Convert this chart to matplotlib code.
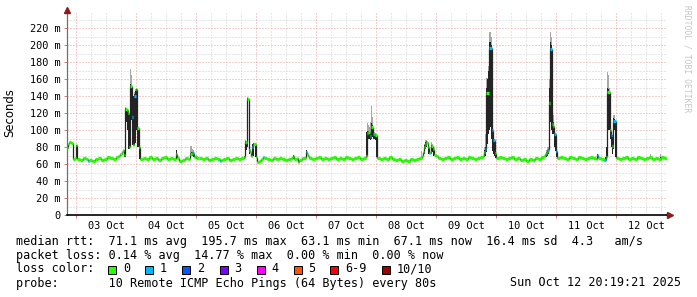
import matplotlib
matplotlib.use('Agg')
import matplotlib.pyplot as plt
import matplotlib.dates as mdates
from matplotlib.ticker import MultipleLocator, FuncFormatter
from matplotlib.patches import Rectangle
from datetime import datetime, timedelta

W, H = 697, 297
END = datetime(2025, 10, 12, 20, 19, 21)
START = END - timedelta(days=10)

# median rtt (ms); each value holds from its hour (after START) to the next one
hours = [0.0, 0.4, 0.8, 1.6, 2.4, 3.2, 3.6, 4.0, 5.2, 6.4, 7.6, 8.4, 8.8, 10.0, 11.2, 12.4,
         13.6, 14.8, 16.0, 17.2, 18.4, 19.6, 20.4, 21.2, 22.0, 22.4, 22.8,
         23.2, 24.0, 24.4, 24.8, 25.2, 26.0, 26.4, 26.8, 27.6, 28.0, 28.8,
         29.2, 30.4, 31.6, 32.8, 34.0, 35.2, 36.4, 37.6, 38.8, 40.0, 41.2, 42.4, 43.6, 44.0,
         44.8, 46.0, 47.2, 48.4, 49.2, 50.0, 50.4, 50.8, 51.6, 52.8, 54.0, 55.2, 56.4, 57.6,
         58.8, 60.0, 61.2, 61.6, 62.4, 63.6, 64.8, 66.0, 67.2, 68.4, 69.6, 70.8,
         71.2, 72.0, 72.8, 73.2, 73.6, 74.0, 74.4, 75.6, 76.0, 76.8, 77.6, 78.4, 78.8,
         80.0, 81.2, 82.4, 83.6, 84.8, 86.0, 87.2, 88.4, 89.6, 90.4, 90.8, 92.0, 92.4, 92.8,
         94.0, 95.6, 96.0, 96.4, 96.8, 98.0, 99.2, 100.4, 101.6, 102.8, 104.0, 105.2, 106.4,
         107.6, 108.8, 110.0, 111.2, 112.4, 113.6, 114.8, 116.0, 117.2, 118.4, 119.6,
         120.0, 120.4, 121.2, 121.6, 122.4, 122.8, 123.2, 124.0,
         125.2, 126.4, 127.6, 128.8, 130.0, 131.2, 132.4, 133.6, 134.8, 136.0, 137.2, 138.4,
         139.6, 140.8, 142.0, 142.4, 142.8, 143.2, 143.6, 144.0, 144.4, 144.8, 145.2, 145.6,
         146.4, 146.8, 147.6, 148.4, 149.6, 150.8, 152.0, 153.2, 154.4, 155.6, 156.8, 158.0,
         159.2, 160.4, 161.6, 162.8, 164.0, 165.2, 166.4, 166.8, 167.2,
         167.6, 168.8, 170.0, 170.4, 171.2, 171.6,
         172.8, 174.0, 175.2, 176.4, 177.6, 178.8, 180.0, 181.2, 182.4, 183.6, 184.8, 186.0,
         187.2, 188.4, 189.6, 190.8, 191.2, 191.6,
         192.0, 192.4, 192.8, 193.2, 194.0, 194.4, 194.8, 195.6, 196.0,
         197.2, 198.4, 199.6, 200.8, 202.0, 203.2, 204.4, 205.6, 206.8, 208.0, 209.2, 210.4,
         211.6, 212.0, 212.4, 213.6, 214.8, 215.6,
         216.0, 217.2, 217.6, 218.0, 218.4, 219.6,
         220.8, 222.0, 223.2, 224.4, 225.6, 226.8, 228.0, 229.2, 230.4, 231.6, 232.8, 234.0,
         235.2, 236.4, 237.6, 238.8]
median_ms = [79, 84, 86, 85, 66, 67, 82, 66, 65, 67, 66, 64, 65, 64, 66, 67,
             65, 66, 68, 67, 66, 68, 70, 72, 74, 76, 71,
             125, 124, 120, 80, 152, 116, 82, 140, 148, 102, 80,
             66, 67, 66, 68, 66, 67, 65, 67, 68, 66, 67, 66, 72, 67,
             64, 65, 67, 66, 72, 73, 73, 68, 67, 67, 66, 67, 65, 66,
             67, 66, 64, 65, 66, 67, 65, 66, 67, 66, 67, 68,
             86, 137, 77, 74, 70, 80, 84, 68, 63, 64, 66, 68, 67,
             66, 65, 67, 66, 67, 66, 65, 66, 67, 70, 66, 67, 63, 65,
             67, 74, 72, 70, 67, 66, 67, 68, 66, 67, 66, 67, 68,
             66, 67, 66, 68, 67, 66, 67, 68, 66, 67, 70,
             97, 98, 93, 104, 96, 95, 94, 67,
             66, 67, 66, 68, 66, 65, 66, 64, 65, 64, 66, 65,
             66, 67, 70, 74, 80, 84, 86, 85, 80, 73, 74, 81,
             78, 71, 70, 67, 66, 67, 68, 66, 67, 68, 66, 67,
             66, 68, 67, 66, 67, 68, 70, 74, 78,
             144, 197, 100, 88, 73, 67,
             68, 67, 66, 67, 68, 66, 67, 65, 66, 64, 66, 65,
             67, 66, 68, 70, 72, 73,
             75, 76, 132, 195, 107, 105, 96, 75, 67,
             68, 67, 66, 68, 67, 66, 68, 67, 66, 67, 68, 67,
             66, 71, 67, 66, 65, 68,
             145, 100, 94, 81, 111, 67,
             66, 67, 68, 66, 67, 66, 68, 67, 66, 67, 68, 66,
             67, 66, 68, 67]
# steps where 1 of 10 pings was lost
loss1_hours = [8.4, 26.0, 26.8, 50.4, 61.2, 74.0, 78.4, 95.6, 121.2, 122.4, 144.8,
               167.2, 168.8, 170.0, 170.4, 191.2, 192.4, 193.2, 194.8, 195.6, 212.0,
               214.8, 217.6, 218.4]

# smoke: spread of the pings (dark part and light top) where it shows
smoke_hours = [3.6, 22.8, 23.2, 23.6, 24.0, 24.4, 24.8, 25.2, 25.6, 26.0, 26.4, 26.8, 27.2,
               27.6, 28.0, 28.4, 28.8, 43.6, 49.2, 49.6, 50.0, 50.4, 51.6, 52.0,
               70.8, 71.2, 71.6, 72.0, 72.8, 74.0, 74.4, 75.2, 90.4, 95.6,
               119.6, 120.0, 120.4, 120.8, 121.2, 121.6, 122.0, 122.4, 122.8, 123.2, 123.6,
               141.6, 142.8, 143.2, 143.6, 144.4, 145.6, 146.0, 146.4,
               166.8, 167.2, 167.6, 168.0, 168.4, 168.8, 169.2, 169.6, 170.0, 170.4, 170.8, 171.2,
               191.6, 192.0, 192.4, 192.8, 193.2, 193.6, 194.0, 194.4, 194.8, 195.2, 195.6,
               212.0, 215.2, 215.6, 216.0, 216.4, 216.8, 217.2, 217.6, 218.0, 218.4, 218.8, 219.2,
               233.2, 237.2]
smoke_lo = [66, 68, 68, 110, 100, 78, 78, 80, 112, 82, 82, 85, 85,
            100, 80, 80, 66, 66, 70, 71, 70, 68, 66, 66,
            66, 68, 76, 80, 72, 70, 70, 68, 66, 68,
            68, 70, 90, 90, 88, 90, 92, 90, 90, 88, 68,
            66, 72, 78, 80, 72, 72, 74, 70,
            68, 70, 74, 84, 95, 100, 104, 90, 75, 72, 70, 67,
            68, 70, 72, 76, 110, 100, 96, 96, 80, 75, 68,
            66, 64, 66, 70, 100, 100, 90, 80, 72, 78, 100, 68,
            66, 66]
smoke_hi = [82, 76, 126, 125, 124, 122, 84, 154, 152, 118, 140, 142, 146,
            149, 104, 102, 81, 76, 73, 74, 74, 74, 68, 68,
            70, 87, 86, 138, 80, 84, 85, 84, 71, 76,
            98, 99, 99, 98, 96, 108, 106, 98, 96, 95, 95,
            68, 82, 86, 87, 82, 82, 82, 79,
            76, 80, 150, 160, 170, 204, 204, 200, 104, 90, 89, 74,
            74, 76, 78, 150, 204, 200, 112, 110, 98, 97, 76,
            72, 68, 80, 150, 148, 146, 104, 96, 94, 114, 113, 112,
            68, 68]
smoke_top = [82, 76, 127, 126, 125, 124, 84, 172, 165, 132, 140, 145, 148,
             150, 104, 102, 81, 76, 81, 81, 78, 76, 71, 70,
             70, 88, 87, 139, 80, 84, 85, 84, 71, 76,
             98, 108, 106, 104, 110, 128, 115, 100, 98, 97, 96,
             75, 84, 88, 88, 86, 86, 84, 80,
             80, 95, 161, 162, 176, 216, 216, 210, 108, 92, 89, 74,
             76, 80, 80, 160, 216, 210, 116, 118, 100, 97, 76,
             72, 68, 80, 169, 165, 150, 106, 96, 94, 118, 118, 112,
             72, 72]

loss_labels = ['0', '1', '2', '3', '4', '5', '6-9', '10/10']
loss_colors = ['#26ff00', '#00b8ff', '#0059ff', '#7e00ff', '#ff00ff', '#ff5500', '#ff0000', '#a10000']

MONO = 'DejaVu Sans Mono'


def fx(x):
    return x / W


def fy(y):
    return 1 - y / H


fig = plt.figure(figsize=(W / 100, H / 100), dpi=100)
ax = fig.add_axes([fx(66.7), fy(215), 600 / W, (215 - 13) / H])

t0 = mdates.date2num(START)
step = 0.4 / 24

# grid: gray every 6 h and 10 ms, red at midnight and every 20 ms
six_hourly = []
t = datetime(2025, 10, 2, 0, 0)
while t < END:
    if t > START and t.hour != 0:
        six_hourly.append(mdates.date2num(t))
    t += timedelta(hours=6)
for x in six_hourly:
    ax.axvline(x, color='#cfcfcf', lw=0.72, ls=(0, (1, 2)), zorder=0)
for v in range(10, 240, 20):
    ax.axhline(v, color='#cfcfcf', lw=0.72, ls=(0, (1, 2)), zorder=0)
for v in range(20, 240, 20):
    ax.axhline(v, color='#e8a0a0', lw=0.72, ls=(0, (1, 2)), zorder=0.5)
for d in range(3, 13):
    ax.axvline(mdates.date2num(datetime(2025, 10, d)), color='#e8a0a0', lw=0.72,
               ls=(0, (1, 2)), zorder=0.5)

# smoke
sx = [t0 + h / 24 for h in smoke_hours]
ax.bar(sx, [b - a for a, b in zip(smoke_hi, smoke_top)], width=step, bottom=smoke_hi,
       align='edge', color='#a8a8a8', linewidth=0, zorder=1)
ax.bar(sx, [b - a for a, b in zip(smoke_lo, smoke_hi)], width=step, bottom=smoke_lo,
       align='edge', color='#242424', linewidth=0, zorder=2)

# median: colored ticks per step, dark jumps between steps
xs = [t0 + h / 24 for h in hours]
xe = xs[1:] + [t0 + 10]
ax.vlines(xs[1:], median_ms[:-1], median_ms[1:], colors='#242424', lw=0.9, zorder=2.5)
lost = set(round(h, 1) for h in loss1_hours)
cols = [loss_colors[1] if round(h, 1) in lost else loss_colors[0] for h in hours]
ax.hlines(median_ms, xs, xe, colors=cols, lw=2.4, zorder=3)

ax.set_xlim(t0, t0 + 10)
ax.set_ylim(0, 238)

ax.yaxis.set_major_locator(MultipleLocator(20))
ax.yaxis.set_major_formatter(FuncFormatter(lambda v, p: '0' if v == 0 else '%d m' % v))
ax.xaxis.set_major_locator(mdates.HourLocator(byhour=[12]))
ax.xaxis.set_major_formatter(mdates.DateFormatter('%d %b'))
ax.xaxis.set_minor_locator(mdates.DayLocator())
ax.tick_params(axis='y', length=2.5, width=0.7, color='#d08080', pad=2, labelsize=7.4)
ax.tick_params(axis='x', which='major', length=0, pad=4, labelsize=7.4)
ax.tick_params(axis='x', which='minor', length=2.5, width=0.7, color='#d08080')
for lab in ax.get_xticklabels() + ax.get_yticklabels():
    lab.set_family(MONO)

for s in ['top', 'right']:
    ax.spines[s].set_visible(False)
ax.spines['left'].set_color('#707070')
ax.spines['left'].set_linewidth(0.9)
ax.spines['bottom'].set_color('black')
ax.spines['bottom'].set_linewidth(1.2)

# axis arrows
fig.lines.append(plt.Line2D([fx(66.7), fx(66.7)], [fy(13), fy(9)], transform=fig.transFigure,
                            color='#707070', lw=0.9))
fig.lines.append(plt.Line2D([fx(666.7), fx(670)], [fy(215), fy(215)], transform=fig.transFigure,
                            color='black', lw=1.2))
fig.lines.append(plt.Line2D([fx(66.7)], [fy(9.5)], transform=fig.transFigure, marker='^',
                            ms=4.5, color='#8b1a1a', lw=0))
fig.lines.append(plt.Line2D([fx(670)], [fy(215)], transform=fig.transFigure, marker='>',
                            ms=4.5, color='#8b1a1a', lw=0))

fig.text(fx(10), fy(113), 'Seconds', rotation=90, ha='center', va='center', fontsize=8.4,
         family='DejaVu Sans')
fig.text(fx(687), fy(5), 'RRDTOOL / TOBI OETIKER', rotation=270, ha='center', va='top',
         fontsize=5.8, family=MONO, color='#c4c4c4')

# legend lines
fs = 8.5
fig.text(fx(16), fy(241.3),
         'median rtt:  71.1 ms avg  195.7 ms max  63.1 ms min  67.1 ms now  16.4 ms sd  4.3   am/s',
         va='center', fontsize=fs, family=MONO)
fig.text(fx(16), fy(255),
         'packet loss: 0.14 % avg  14.77 % max  0.00 % min  0.00 % now',
         va='center', fontsize=fs, family=MONO)
fig.text(fx(16), fy(269), 'loss color:', va='center', fontsize=fs, family=MONO)
box_x = [108, 145, 182, 219.5, 256.5, 293.5, 330, 381.5]
for bx, lab, c in zip(box_x, loss_labels, loss_colors):
    fig.add_artist(Rectangle((fx(bx), fy(273.5)), 8 / W, 8 / H, transform=fig.transFigure,
                             facecolor=c, edgecolor='black', lw=0.7))
    fig.text(fx(bx + 15), fy(269), lab, va='center', fontsize=fs, family=MONO)
fig.text(fx(16), fy(283), 'probe:       10 Remote ICMP Echo Pings (64 Bytes) every 80s',
         va='center', fontsize=fs, family=MONO)
fig.text(fx(681), fy(283), 'Sun Oct 12 20:19:21 2025', ha='right', va='center',
         fontsize=fs, family=MONO)

fig.savefig('out.png', dpi=100)
